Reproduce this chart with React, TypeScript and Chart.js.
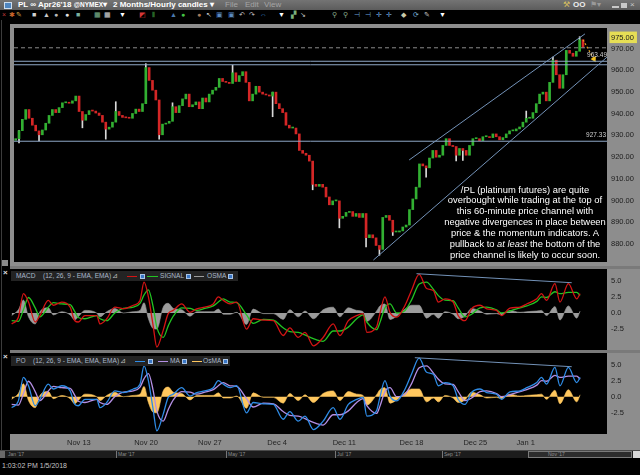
import React, { useEffect, useRef } from 'react';
import { Chart, registerables } from 'chart.js';

Chart.register(...registerables);

// ---------------- DATA ----------------
// price closes, ~4 candles per trading day, starting week of Nov 6 2017
const closes = [
  928.5, 932.2, 937.4, 941.9, 937.9, 934.7, 932.1, 930.3, 932.5, 935.6,
  939.2, 941.9, 940.5, 942.8, 945.0, 945.2, 944.8, 945.9, 948.1, 941.0,
  937.0, 939.6, 941.4, 941.2, 940.3, 939.2, 936.1, 932.9, 933.8, 936.1,
  941.0, 939.2, 938.3, 938.1, 937.9, 940.1, 942.1, 941.0, 944.6, 961.2,
  955.3, 950.8, 946.3, 930.3, 935.2, 935.6, 936.5, 943.2, 940.5, 943.7,
  946.8, 949.0, 943.2, 944.1, 945.4, 942.3, 947.2, 945.4, 949.0, 950.8,
  952.1, 956.2, 954.8, 954.4, 953.9, 958.8, 954.8, 957.5, 959.3, 954.4,
  945.9, 949.0, 952.6, 949.9, 949.0, 948.6, 948.1, 949.9, 944.6, 942.3,
  940.5, 934.7, 933.4, 933.4, 930.7, 923.1, 921.8, 920.9, 918.2, 907.5,
  906.6, 907.5, 906.2, 901.7, 898.1, 899.9, 899.9, 891.9, 892.8, 894.6,
  895.0, 892.8, 894.1, 892.3, 894.1, 883.0, 884.3, 882.9, 879.4, 877.6,
  892.3, 893.2, 891.0, 885.6, 885.6, 886.1, 887.9, 888.8, 895.9, 900.8,
  906.2, 916.9, 916.0, 915.1, 919.6, 923.1, 920.0, 920.9, 925.4, 928.5,
  925.4, 924.9, 920.9, 924.0, 923.1, 920.9, 925.4, 928.5, 928.5, 927.6,
  929.4, 929.4, 929.0, 930.7, 929.4, 928.0, 929.0, 930.7, 932.1, 932.1,
  933.0, 933.9, 936.1, 937.9, 937.9, 940.5, 944.6, 949.0, 949.9, 945.9,
  954.4, 964.6, 957.9, 951.7, 957.9, 969.1, 967.8, 966.4, 968.7, 974.0,
  970.5,
];
const firstOpen = 927.8;
// notable wick extremes: [candle index, price]
const spikes = [
  [1, 926.5], [7, 927.5], [20, 933.5], [27, 928.3], [30, 945.5], [39, 963.0],
  [43, 928.3], [47, 945.0], [65, 962.3], [77, 938.6], [89, 905.0], [97, 887.5],
  [105, 878.7], [109, 874.9], [113, 884.0], [123, 910.8], [132, 918.3],
  [134, 918.5], [153, 941.2], [161, 966.0], [169, 975.4],
];
const priceTicks = [880, 890, 900, 910, 920, 930, 940, 950, 960, 970];
const lastPrice = 975;
const upperChannel = [[117.9, 918.7], [170.6, 976.7]];
const lowerChannel = [[107.2, 872.7], [177.2, 966.0]];
const resistanceLines = [964.1, 962.5];
const supportLine = 927.33;
const dashedLevel = 970.3;
const targetArrow = [[170.0, 974.0], [173.3, 965.1]];
const targetLabel = '963.49';

// MACD (12,26,9) readings: candle index, MACD, signal, OSMA
const macdIdx = [
  0, 2, 3.5, 5, 7, 8.4, 10.9, 12.4, 14.9, 17.4,
  18.8, 19.8, 21.8, 25.3, 26.3, 28.3, 30.7, 33.2, 36.2, 38.2,
  39.4, 40.7, 42.1, 43.2, 45.1, 46.6, 48.1, 50.6, 53.1, 55.1,
  57.5, 60, 61.5, 63, 65, 67, 69.9, 71.9, 74.9, 77.9,
  80.8, 82.8, 85.3, 87.3, 89.8, 92.7, 95.7, 97.7, 100.2, 102.7,
  104.6, 105.7, 108.6, 109.6, 111.1, 112.6, 114.6, 117.1, 119, 121.3,
  123.5, 125.5, 127, 129, 131.4, 132.9, 134.9, 136.9, 139.4, 141.4,
  144.3, 145.8, 148.3, 151.3, 153.3, 156.3, 157.7, 159.2, 161.7, 163.2,
  165.7, 168.2, 169.2,
];
const macdVal = [
  -1.7, -0.65, 3.0, 1.7, -1.4, -0.4, 1.95, 1.2, 1.7, 0.9,
  -1.2, -1.4, -0.4, -0.4, -1.7, -0.9, 0.9, 0.65, 1.2, 1.95,
  4.8, 2.5, -1.95, -5.3, -2.7, -0.1, 0.4, 1.4, 0.1, 0.65,
  0.9, 1.4, 2.5, 1.95, 1.4, 1.7, -2.5, -0.9, -1.1, -1.2,
  -3.5, -2.3, -3.8, -3.0, -5.1, -3.8, -1.7, -3.5, -1.2, -0.4,
  -0.1, -3.0, -2.2, -0.1, 2.5, 0.1, -0.65, 1.2, 3.5, 6.0,
  3.8, 3.5, 1.7, 2.2, 1.7, -0.4, -1.2, 0.65, 1.2, 0.65,
  0.4, -0.4, 0.75, 0.9, 1.4, 2.2, 3.0, 1.95, 4.55, 1.7,
  4.55, 2.2, 3.0,
];
const signalVal = [
  -1.2, -1.3, 0.5, 2.4, 0.8, -0.6, 0.9, 1.6, 1.4, 1.3,
  0.2, -0.7, -0.9, -0.4, -0.9, -1.2, 0.0, 0.7, 0.9, 1.5,
  2.8, 3.6, 1.0, -2.2, -3.8, -2.0, -0.5, 0.8, 0.7, 0.4,
  0.7, 1.1, 1.7, 2.2, 1.7, 1.6, -0.3, -1.6, -1.0, -1.1,
  -2.3, -2.9, -3.0, -3.4, -4.0, -4.4, -2.8, -2.8, -2.2, -0.9,
  -0.3, -1.4, -2.6, -1.5, 0.8, 1.4, 0.0, 0.4, 2.0, 4.5,
  4.8, 3.7, 2.7, 2.0, 1.9, 0.8, -0.6, -0.2, 0.8, 0.9,
  0.5, 0.0, 0.3, 0.8, 1.1, 1.8, 2.5, 2.4, 3.3, 3.0,
  3.2, 3.2, 2.7,
];
const osmaVal = [
  -0.4, 0.5, 2.0, -0.6, -1.7, 0.2, 0.8, -0.3, 0.2, -0.3,
  -1.1, -0.6, 0.4, 0.0, -0.6, 0.2, 0.7, 0.0, 0.2, 0.4,
  1.6, -0.9, -2.4, -2.5, 0.9, 1.5, 0.7, 0.5, -0.5, 0.2,
  0.2, 0.2, 0.6, -0.2, -0.2, 0.1, -1.8, 0.6, -0.1, -0.1,
  -1.0, 0.5, -0.6, 0.3, -0.9, 0.5, 0.9, -0.6, 0.8, 0.4,
  0.2, -1.3, 0.3, 1.1, 1.4, -1.0, -0.5, 0.6, 1.2, 1.2,
  -0.8, -0.2, -0.8, 0.2, -0.2, -0.9, -0.5, 0.7, 0.3, -0.2,
  -0.1, -0.3, 0.4, 0.1, 0.2, 0.3, 0.4, -0.4, 1.0, -1.1,
  1.1, -0.8, 0.3,
];
const macdDivergence = [[120.5, 6.1], [166.7, 4.7]];

// Price oscillator (12,26,9) — reads the same as the MACD panel
const poIdx = macdIdx;
const poVal = macdVal;
const poMa = signalVal;
const poOsma = osmaVal;
const poDivergence = [[120.0, 6.06], [166.7, 4.66]];

const indicatorTicks = [-2.5, 0, 2.5, 5];
const xTickIdx = [20, 40, 59, 79, 99, 119, 138, 153];
const xTickLabels = ['Nov 13', 'Nov 20', 'Nov 27', 'Dec 4', 'Dec 11', 'Dec 18', 'Dec 25', 'Jan 1'];
const scrollLabels = ["Jan '17", "Mar '17", "May '17", "Jul '17", "Sep '17", "Nov '17"];

const X_MIN = -0.5;
const X_MAX = 177.2;

// ---------------- STYLE ----------------
const FONT = 'Arial, "Liberation Sans", Helvetica, sans-serif';
const UP = '#32b032';
const DOWN = '#d42626';
const CHANNEL = '#7392b8';
const HLINE = '#8ea7c6';
const AXIS_GRAY = '#8d8d8d';

const blackArea = {
  id: 'blackArea',
  beforeDraw(chart: any) {
    const { ctx, chartArea: a } = chart;
    ctx.save();
    ctx.fillStyle = '#000';
    ctx.fillRect(a.left, a.top, a.right - a.left, a.bottom - a.top);
    ctx.restore();
  },
};

function yAxis(min: number, max: number, ticks: number[], dec: number) {
  return {
    type: 'linear',
    position: 'right',
    min,
    max,
    grid: { display: false, drawTicks: false },
    border: { display: false },
    afterBuildTicks: (s: any) => {
      s.ticks = ticks.map((v) => ({ value: v }));
    },
    afterFit: (s: any) => {
      s.width = 33;
      s.paddingTop = 0;
      s.paddingBottom = 0;
    },
    ticks: {
      autoSkip: false,
      padding: 4,
      color: '#1c1c1c',
      font: { size: 7.5, family: FONT },
      callback: (v: any) => Number(v).toFixed(dec),
      showLabelBackdrop: (c: any) => !!(c.tick && c.tick.value === lastPrice),
      backdropColor: '#e6de55',
      backdropPadding: { top: 1.5, bottom: 1, left: 1.5, right: 3 },
    },
  };
}

function xAxis(show: boolean) {
  return {
    type: 'linear',
    min: X_MIN,
    max: X_MAX,
    offset: false,
    display: show,
    grid: { display: false, drawTicks: false },
    border: { display: false },
    afterBuildTicks: (s: any) => {
      s.ticks = xTickIdx.map((v) => ({ value: v }));
    },
    afterFit: (s: any) => {
      s.height = show ? 16 : 0;
      s.paddingLeft = 0;
      s.paddingRight = 0;
    },
    ticks: {
      autoSkip: false,
      maxRotation: 0,
      padding: 4,
      color: '#252525',
      font: { size: 7.5, family: FONT },
      callback: (v: any) => {
        const k = xTickIdx.indexOf(Number(v));
        return k >= 0 ? xTickLabels[k] : '';
      },
    },
  };
}

const baseOptions = {
  responsive: false,
  maintainAspectRatio: false,
  animation: false,
  events: [],
  layout: { padding: 0 },
  plugins: { legend: { display: false }, tooltip: { enabled: false } },
};

const seg = (pts: number[][]) => pts.map(([x, y]) => ({ x, y }));
const hLine = (v: number) => [{ x: X_MIN, y: v }, { x: X_MAX, y: v }];
const pts = (xs: number[], ys: number[]) => xs.map((x, i) => ({ x, y: ys[i] }));

function lineDs(data: any[], color: string, extra: any = {}) {
  return {
    type: 'line',
    data,
    borderColor: color,
    borderWidth: 1,
    pointRadius: 0,
    fill: false,
    order: 0,
    ...extra,
  };
}

function indicatorDatasets(xs: number[], a: number[], b: number[], h: number[], div: number[][], ca: string, cb: string, ch: string) {
  return [
    lineDs(seg(div), CHANNEL, { order: 0 }),
    lineDs(pts(xs, a), ca, { borderWidth: 1.3, cubicInterpolationMode: 'monotone', order: 1 }),
    lineDs(pts(xs, b), cb, { borderWidth: 1.3, cubicInterpolationMode: 'monotone', order: 2 }),
    lineDs(pts(xs, h), ch, {
      borderWidth: 0.6,
      backgroundColor: ch,
      fill: 'origin',
      cubicInterpolationMode: 'monotone',
      order: 3,
    }),
  ];
}

export default function App() {
  const mainRef = useRef<HTMLCanvasElement>(null);
  const macdRef = useRef<HTMLCanvasElement>(null);
  const poRef = useRef<HTMLCanvasElement>(null);

  useEffect(() => {
    document.body.style.margin = '0';
    const charts: any[] = [];

    const opens = closes.map((c, i) => (i === 0 ? firstOpen : closes[i - 1]));
    const bodyData = closes.map((c, i) => ({ x: i, y: [opens[i], c] }));
    const bodyColors = closes.map((c, i) => (c >= opens[i] ? UP : DOWN));
    const wickData = spikes.map(([i, v]) => ({ x: i, y: [closes[i], v] }));

    if (mainRef.current) {
      charts.push(
        new Chart(mainRef.current, {
          type: 'bar',
          data: {
            datasets: [
              lineDs(seg(upperChannel), CHANNEL),
              lineDs(seg(lowerChannel), CHANNEL),
              ...resistanceLines.map((v) => lineDs(hLine(v), HLINE)),
              lineDs(hLine(supportLine), HLINE),
              lineDs(hLine(dashedLevel), '#8a8a8a', { borderDash: [4, 3] }),
              lineDs(seg(targetArrow), '#e3a41e', {
                borderDash: [2, 2],
                borderWidth: 1.2,
                pointRadius: [0, 3.5],
                pointStyle: 'triangle',
                pointRotation: 151,
                pointBackgroundColor: '#f0c020',
                pointBorderColor: '#f0c020',
                pointBorderWidth: 0,
              }),
              {
                type: 'bar',
                data: bodyData,
                backgroundColor: bodyColors,
                barThickness: 2,
                grouped: false,
                minBarLength: 1,
                order: 1,
              },
              {
                type: 'bar',
                data: wickData,
                backgroundColor: '#d8d8d8',
                barThickness: 1,
                grouped: false,
                order: 2,
              },
            ],
          } as any,
          options: {
            ...baseOptions,
            scales: {
              x: xAxis(false),
              y: yAxis(871.8, 979.4, [...priceTicks, lastPrice], 2),
            },
          } as any,
          plugins: [blackArea],
        })
      );
    }

    if (macdRef.current) {
      charts.push(
        new Chart(macdRef.current, {
          type: 'line',
          data: {
            datasets: indicatorDatasets(macdIdx, macdVal, signalVal, osmaVal, macdDivergence, '#d41414', '#22c422', '#9c9c9c'),
          } as any,
          options: {
            ...baseOptions,
            scales: { x: xAxis(false), y: yAxis(-5.75, 6.83, indicatorTicks, 1) },
          } as any,
          plugins: [blackArea],
        })
      );
    }

    if (poRef.current) {
      charts.push(
        new Chart(poRef.current, {
          type: 'line',
          data: {
            datasets: indicatorDatasets(poIdx, poVal, poMa, poOsma, poDivergence, '#2f8ce6', '#b48fe4', '#ffc75e'),
          } as any,
          options: {
            ...baseOptions,
            scales: { x: xAxis(true), y: yAxis(-5.79, 6.79, indicatorTicks, 1) },
          } as any,
          plugins: [blackArea],
        })
      );
    }

    return () => charts.forEach((c) => c.destroy());
  }, []);

  const abs = (l: number, t: number, w: number, h: number, extra: any = {}) => ({
    position: 'absolute' as const,
    left: l,
    top: t,
    width: w,
    height: h,
    ...extra,
  });

  const checkbox = (l: number) => (
    <span style={abs(l, 2.5, 5, 5, { background: '#3a77c6', border: '0.5px solid #a9c4e6', boxSizing: 'border-box' })} />
  );
  const swatch = (l: number, w: number, c: string) => <span style={abs(l, 4.5, w, 1.5, { background: c })} />;

  const toolIcons: [number, string, string][] = [
    [2, '#c03a3a', '×'], [9, '#c8642a', '✱'], [16, '#d8a84a', '✎'], [32, '#d0d0d0', '■'], [43, '#c8c8c8', '▲'],
    [54, '#b8b8b8', '●'], [65, '#e0e0e0', '●'], [76, '#7ab0a0', '■'], [94, '#7ab088', '▦'], [104, '#d0d0d0', '▦'],
    [119, '#ffffff', '▼'], [139, '#d83838', '◩'], [152, '#44aa44', '⫴'], [170, '#4a7ab0', '▲'], [181, '#44c444', '●'],
    [197, '#a87a58', '●'], [206, '#c8c8c8', '↖'], [216, '#5a8ac0', '▣'], [228, '#5a8ac0', '▣'], [239, '#c8c8c8', '↶'],
    [249, '#c8c8c8', '↷'], [260, '#3a8ad8', '⇔'], [278, '#ffffff', '▼'], [291, '#7ab07a', '▞'], [300, '#c8c8c8', '↘'],
    [332, '#88aa88', '⚲'], [343, '#88aa88', '⚲'], [354, '#6aa0d8', '⊣'], [365, '#6aa0d8', '⊣'], [376, '#6aa0d8', '✛'],
    [386, '#6aa0d8', '✛'], [401, '#c8c8a8', '◆'], [413, '#7ab0d8', '⟳'], [424, '#c8c8c8', '✎'], [439, '#ffffff', '▼'],
  ];

  return (
    <div
      style={{
        position: 'fixed',
        left: 0,
        top: 0,
        width: 640,
        height: 475,
        background: '#000',
        overflow: 'hidden',
        fontFamily: FONT,
      }}
    >
      {/* title bar */}
      <div style={abs(0, 0, 640, 10, { background: 'linear-gradient(#747474,#5c5c5c)', color: '#fff', fontSize: 8, lineHeight: '10px', whiteSpace: 'nowrap' })}>
        <span style={abs(4, 1.5, 8, 7, { background: '#4f86c0', border: '1px solid #cde' , boxSizing: 'border-box'})} />
        <span style={{ position: 'absolute', left: 18, top: 0, fontWeight: 'bold' }}>
          PL ∞ Apr26'18 <span style={{ fontSize: 6.5 }}>@NYMEX</span>▾
        </span>
        <span style={{ position: 'absolute', left: 113, top: 0, fontWeight: 'bold' }}>2 Months/Hourly candles ▾</span>
        <span style={{ position: 'absolute', left: 225, top: 0, color: '#a5a5a5' }}>File</span>
        <span style={{ position: 'absolute', left: 245, top: 0, color: '#a5a5a5' }}>Edit</span>
        <span style={{ position: 'absolute', left: 264, top: 0, color: '#a5a5a5' }}>View</span>
        <span style={{ position: 'absolute', left: 563, top: 0, color: '#d8c060' }}>⚒</span>
        <span style={{ position: 'absolute', left: 573, top: 0, color: '#eee', fontWeight: 'bold' }}>OO</span>
        <span style={{ position: 'absolute', left: 590, top: 0, color: '#9a9a9a' }}>⚑▾</span>
        <span style={abs(612, 6, 7, 2, { background: '#c8c8c8' })} />
        <span style={abs(621, 3, 6, 5, { background: '#c8c8c8' })} />
        <span style={{ position: 'absolute', left: 630, top: 0, color: '#c8c8c8' }}>×</span>
      </div>

      {/* toolbar */}
      <div style={abs(0, 10, 640, 10, { background: '#000', fontSize: 7, lineHeight: '10px' })}>
        {toolIcons.map(([x, c, g], i) => (
          <span key={i} style={{ position: 'absolute', left: x, top: 0, color: c }}>
            {g}
          </span>
        ))}
      </div>

      {/* left frame */}
      <div style={abs(1, 20, 1, 438, { background: '#3c3c3c' })} />
      <div style={abs(2, 260, 6, 6, { background: '#8a8a8a' })} />
      <div style={{ position: 'absolute', left: 3, top: 268, color: '#e0e0e0', fontSize: 8, fontWeight: 'bold' }}>×</div>
      <div style={{ position: 'absolute', left: 3, top: 352, color: '#e0e0e0', fontSize: 8, fontWeight: 'bold' }}>×</div>

      {/* right axis column */}
      <div style={abs(607, 24, 33, 426, { background: AXIS_GRAY })} />

      {/* separators */}
      <div style={abs(10, 266, 630, 3, { background: '#7a7a7a' })} />
      <div style={abs(10, 350, 630, 3, { background: '#7a7a7a' })} />

      {/* charts */}
      <div style={abs(10, 24, 630, 242, { background: AXIS_GRAY })}>
        <canvas ref={mainRef} width={630} height={242} style={{ display: 'block' }} />
      </div>
      <div style={abs(10, 269, 630, 81, { background: AXIS_GRAY })}>
        <canvas ref={macdRef} width={630} height={81} style={{ display: 'block' }} />
      </div>
      <div style={abs(10, 353, 630, 97, { background: AXIS_GRAY })}>
        <canvas ref={poRef} width={630} height={97} style={{ display: 'block' }} />
      </div>

      {/* price annotations */}
      <div style={abs(582, 131, 24, 8, { color: '#d0d0d0', fontSize: 6.5, lineHeight: '8px', textAlign: 'right' })}>
        {supportLine.toFixed(2)}
      </div>
      <div style={abs(583, 51, 24, 8, { color: '#d0d0d0', fontSize: 6.5, lineHeight: '8px', textAlign: 'right' })}>
        {targetLabel}
      </div>

      <div
        style={abs(435, 184.5, 180, 80, {
          color: '#fff',
          fontSize: 9.4,
          lineHeight: '10.95px',
          textAlign: 'center',
          whiteSpace: 'nowrap',
        })}
      >
        /PL (platinum futures) are quite
        <br />
        overbought while trading at the top of
        <br />
        this 60-minute price channel with
        <br />
        negative divergences in place between
        <br />
        price &amp; the momentum indicators. A
        <br />
        pullback to <i>at least</i> the bottom of the
        <br />
        price channel is likely to occur soon.
      </div>

      {/* MACD header */}
      <div style={abs(11, 271, 227, 10, { background: '#232323', color: '#a9b8c9', fontSize: 6.6, lineHeight: '10px', whiteSpace: 'nowrap' })}>
        <span style={{ position: 'absolute', left: 5 }}>MACD</span>
        <span style={{ position: 'absolute', left: 32 }}>(12, 26, 9 - EMA, EMA)</span>
        <span style={{ position: 'absolute', left: 101, color: '#bbb' }}>⊿</span>
        {swatch(116, 10, '#d41414')}
        {checkbox(129)}
        {swatch(136, 11, '#22c422')}
        <span style={{ position: 'absolute', left: 149 }}>SIGNAL</span>
        {checkbox(175)}
        {swatch(183, 10, '#9c9c9c')}
        <span style={{ position: 'absolute', left: 196 }}>OSMA</span>
        {checkbox(217)}
      </div>

      {/* PO header */}
      <div style={abs(11, 356, 219, 10, { background: '#232323', color: '#a9b8c9', fontSize: 6.6, lineHeight: '10px', whiteSpace: 'nowrap' })}>
        <span style={{ position: 'absolute', left: 5 }}>PO</span>
        <span style={{ position: 'absolute', left: 22 }}>(12, 26, 9 - EMA, EMA, EMA)</span>
        <span style={{ position: 'absolute', left: 109, color: '#bbb' }}>⊿</span>
        {swatch(124, 10, '#2f8ce6')}
        {checkbox(137)}
        {swatch(147, 10, '#b48fe4')}
        <span style={{ position: 'absolute', left: 159 }}>MA</span>
        {checkbox(171)}
        {swatch(181, 10, '#ffc75e')}
        <span style={{ position: 'absolute', left: 192 }}>OsMA</span>
        {checkbox(212)}
      </div>

      {/* scrollbar strip */}
      <div style={abs(0, 450, 640, 8, { background: '#1c1c1c', borderTop: '1px solid #4a4a4a', boxSizing: 'border-box' })}>
        <span style={abs(0, 0, 5, 7, { background: '#6a6a6a' })} />
        <span style={abs(528, 0, 104, 7, { background: '#2c2c2c', border: '1px solid #7a7a7a', boxSizing: 'border-box' })} />
        <span style={abs(633, 0, 7, 7, { background: '#d8d8d8' })} />
        {scrollLabels.map((t, i) => (
          <span
            key={t}
            style={{
              position: 'absolute',
              left: [7, 116, 226, 335, 442, 547][i],
              top: 0,
              fontSize: 5,
              lineHeight: '7px',
              color: '#8f8f8f',
              borderLeft: i > 0 && i < 5 ? '1px solid #777' : 'none',
              paddingLeft: 1,
            }}
          >
            {t}
          </span>
        ))}
      </div>

      {/* timestamp */}
      <div style={{ position: 'absolute', left: 2, top: 462, fontSize: 7, lineHeight: '8px', color: '#c4c4c4' }}>1:03:02 PM 1/5/2018</div>
    </div>
  );
}
